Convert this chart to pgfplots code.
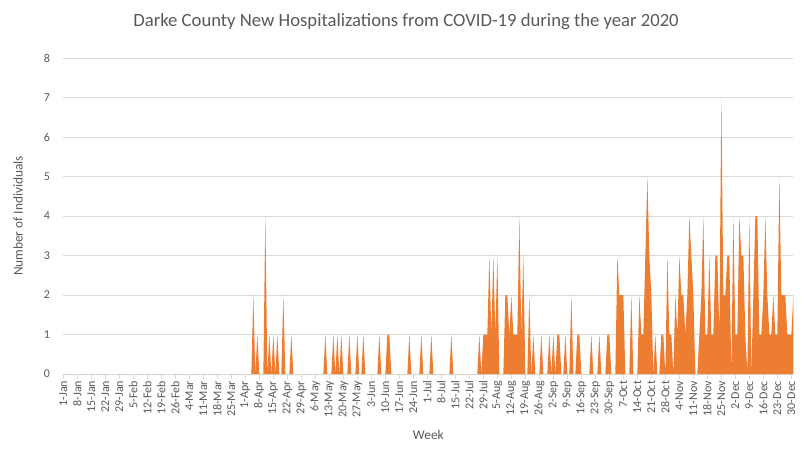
\documentclass[border=0pt]{standalone}
\usepackage{pgfplots}
\pgfplotsset{compat=1.18}
\usepackage{pgfplotstable}
\usepackage{fontspec}
\setmainfont{Carlito}
\definecolor{xlorange}{HTML}{ED7D31}
\definecolor{gridgray}{HTML}{D9D9D9}
\definecolor{txtgray}{HTML}{595959}

% daily new hospitalizations, 1-Jan-2020 (row 0) to 31-Dec-2020 (row 365)
\pgfplotstableread[row sep=\\, header=false]{
0\\0\\0\\0\\0\\0\\0\\0\\0\\0\\
0\\0\\0\\0\\0\\0\\0\\0\\0\\0\\
0\\0\\0\\0\\0\\0\\0\\0\\0\\0\\
0\\0\\0\\0\\0\\0\\0\\0\\0\\0\\
0\\0\\0\\0\\0\\0\\0\\0\\0\\0\\
0\\0\\0\\0\\0\\0\\0\\0\\0\\0\\
0\\0\\0\\0\\0\\0\\0\\0\\0\\0\\
0\\0\\0\\0\\0\\0\\0\\0\\0\\0\\
0\\0\\0\\0\\0\\0\\0\\0\\0\\0\\
0\\0\\0\\0\\0\\2\\0\\1\\0\\0\\
0\\4\\0\\1\\0\\1\\0\\1\\0\\0\\
2\\0\\0\\0\\1\\0\\0\\0\\0\\0\\
0\\0\\0\\0\\0\\0\\0\\0\\0\\0\\
0\\1\\0\\0\\0\\1\\0\\1\\0\\1\\
0\\0\\0\\1\\0\\0\\0\\1\\0\\0\\
1\\0\\0\\0\\0\\0\\0\\0\\1\\0\\
0\\0\\1\\1\\0\\0\\0\\0\\0\\0\\
0\\0\\0\\1\\0\\0\\0\\0\\0\\1\\
0\\0\\0\\0\\1\\0\\0\\0\\0\\0\\
0\\0\\0\\0\\1\\0\\0\\0\\0\\0\\
0\\0\\0\\0\\0\\0\\0\\0\\1\\0\\
1\\1\\1\\3\\1\\3\\1\\3\\0\\0\\
0\\2\\2\\1\\2\\1\\1\\1\\4\\1\\
3\\0\\0\\2\\0\\1\\0\\0\\0\\1\\
0\\0\\0\\1\\0\\1\\0\\1\\1\\0\\
0\\1\\0\\0\\2\\0\\0\\1\\1\\0\\
0\\0\\0\\0\\1\\0\\0\\0\\1\\0\\
0\\0\\1\\1\\0\\0\\0\\3\\2\\2\\
2\\0\\0\\0\\2\\0\\0\\0\\2\\1\\
1\\3\\5\\3\\2\\0\\1\\0\\0\\1\\
1\\0\\3\\1\\1\\0\\2\\1\\3\\2\\
2\\1\\2\\4\\3\\2\\0\\0\\1\\2\\
4\\1\\1\\3\\1\\1\\3\\3\\1\\7\\
2\\2\\3\\3\\0\\4\\1\\1\\4\\3\\
3\\1\\0\\4\\0\\2\\4\\4\\1\\1\\
2\\4\\2\\1\\1\\2\\1\\1\\5\\2\\
2\\2\\1\\1\\1\\2\\
}\hosp

\begin{document}
\begin{tikzpicture}
\useasboundingbox (0,0) rectangle (601.5pt,343.5pt);
\begin{axis}[
  at={(47.5pt,63pt)}, anchor=south west,
  scale only axis, width=547.5pt, height=237pt,
  xmin=0, xmax=365, ymin=0, ymax=8,
  ytick={0,1,...,8},
  xtick={0,7,...,364},
  xticklabels={1-Jan,8-Jan,15-Jan,22-Jan,29-Jan,5-Feb,12-Feb,19-Feb,26-Feb,4-Mar,11-Mar,18-Mar,25-Mar,1-Apr,8-Apr,15-Apr,22-Apr,29-Apr,6-May,13-May,20-May,27-May,3-Jun,10-Jun,17-Jun,24-Jun,1-Jul,8-Jul,15-Jul,22-Jul,29-Jul,5-Aug,12-Aug,19-Aug,26-Aug,2-Sep,9-Sep,16-Sep,23-Sep,30-Sep,7-Oct,14-Oct,21-Oct,28-Oct,4-Nov,11-Nov,18-Nov,25-Nov,2-Dec,9-Dec,16-Dec,23-Dec,30-Dec},
  axis lines*=left,
  y axis line style={draw=none},
  x axis line style={gridgray, line width=0.75pt},
  ymajorgrids,
  grid style={gridgray, line width=0.75pt},
  tick align=outside,
  major tick length=3.5pt,
  ytick style={draw=none},
  xtick style={gridgray, line width=0.75pt},
  /pgf/number format/assume math mode=true,
  ticklabel style={font=\fontsize{9}{10}\selectfont, text=txtgray},
  xticklabel style={rotate=90, anchor=east, inner sep=1.5pt},
  yticklabel style={xshift=-3pt},
  title={Darke County New Hospitalizations from COVID-19 during the year 2020},
  title style={at={(axis description cs:0.4695,1.089)}, anchor=center, font=\fontsize{14}{16}\selectfont, text=txtgray},
  xlabel={Week},
  xlabel style={at={(axis description cs:0.5,-0.193)}, anchor=center, font=\fontsize{10}{12}\selectfont, text=txtgray},
  ylabel={Number of Individuals},
  ylabel style={at={(axis description cs:-0.062,0.5)}, anchor=center, font=\fontsize{10}{12}\selectfont, text=txtgray},
]
\addplot[fill=xlorange, draw=none] table[x expr=\coordindex, y index=0] {\hosp} \closedcycle;
\end{axis}
\end{tikzpicture}
\end{document}
